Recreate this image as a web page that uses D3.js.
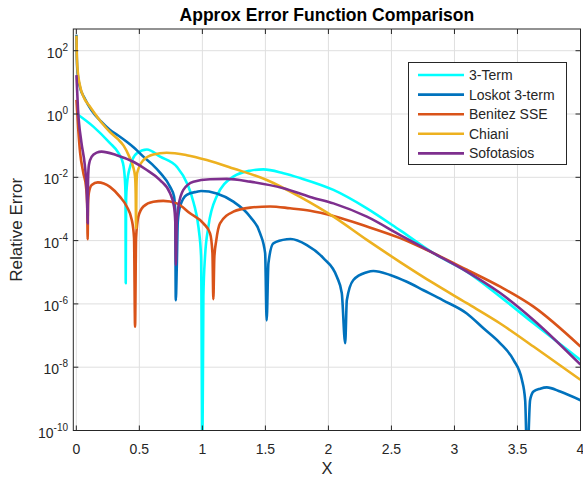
<!DOCTYPE html>
<html>
<head>
<meta charset="utf-8">
<script src="https://cdn.jsdelivr.net/npm/d3@7"></script>
<style>
  body { margin: 0; background: #fff; }
  svg text { font-family: "Liberation Sans", Arial, Helvetica, sans-serif; fill: #262626; }
</style>
</head>
<body>
<div id="chart"></div>
<script>
// chart values
const seriesNames = ['3-Term', 'Loskot 3-term', 'Benitez SSE', 'Chiani', 'Sofotasios'];
const seriesColors = ['#00FFFF', '#0072BD', '#D95319', '#EDB120', '#7E2F8E'];
const xTicks = [0, 0.5, 1, 1.5, 2, 2.5, 3, 3.5, 4];
const yTickExps = [2, 0, -2, -4, -6, -8, -10];

const term3 = [
  [0.005, 1.0], [0.135, 0.40], [0.267, 0.12], [0.33, 0.062], [0.37, 0.028], [0.385, 0.009],
  [0.39, 0.003], [0.392, 4.5e-6], [0.395, 0.002], [0.402, 0.006], [0.427, 0.022], [0.479, 0.057],
  [0.56, 0.076], [0.665, 0.045], [0.8, 0.021], [0.88, 0.0063], [0.93, 0.0016], [0.97, 2.5e-4],
  [0.99, 3e-5], [1.0, 1e-11], [1.008, 1.7e-6], [1.021, 3.1e-5], [1.048, 2.8e-4], [1.114, 2.5e-3],
  [1.246, 0.0105], [1.379, 0.0162], [1.484, 0.0178], [1.643, 0.0135], [1.775, 0.0095],
  [2.04, 0.004], [2.305, 1.05e-3], [2.569, 2.1e-4], [2.833, 4e-5], [3.098, 1.05e-5],
  [3.363, 1.7e-6], [3.627, 2.45e-7], [4.0, 1.7e-8]
];

const loskot = [
  [0.001, 320], [0.004, 60], [0.01, 20], [0.027, 7.5], [0.067, 3.1], [0.119, 1.34], [0.198, 0.57],
  [0.268, 0.31], [0.332, 0.21], [0.4, 0.133], [0.463, 0.083], [0.532, 0.045], [0.6, 0.026],
  [0.664, 0.014], [0.744, 0.005], [0.775, 0.0025], [0.785, 8e-4], [0.789, 1.3e-6], [0.797, 1.5e-5],
  [0.805, 4e-4], [0.823, 1.2e-3], [0.876, 2.8e-3], [0.956, 3.5e-3], [0.99, 3.7e-3], [1.114, 3.1e-3],
  [1.246, 1.7e-3], [1.379, 5.7e-4], [1.458, 1.7e-4], [1.498, 4e-5], [1.51, 3e-7], [1.524, 1.9e-5],
  [1.563, 8.2e-5], [1.67, 1.1e-4], [1.7, 1.12e-4], [1.829, 7.2e-5], [1.96, 2.8e-5], [2.067, 7.2e-6],
  [2.106, 2.2e-6], [2.133, 5.7e-8], [2.146, 1.3e-6], [2.198, 5.7e-6], [2.305, 1.0e-5],
  [2.357, 1.1e-5], [2.49, 8.2e-6], [2.622, 5e-6], [2.754, 2.7e-6], [2.91, 1.3e-6], [3.098, 5e-7],
  [3.23, 1.7e-7], [3.363, 5.7e-8], [3.468, 1.7e-8], [3.535, 4e-9], [3.561, 9e-10], [3.577, 1e-11],
  [3.6, 9e-10], [3.627, 1.7e-9], [3.68, 2.1e-9], [3.733, 2.3e-9], [3.839, 1.7e-9], [4.0, 9e-10]
];

const benitez = [
  [0.001, 2.8], [0.016, 0.3], [0.03, 0.06], [0.056, 0.0135], [0.077, 0.005], [0.086, 0.0015],
  [0.09, 1.1e-4], [0.093, 1.5e-3], [0.1, 3.3e-3], [0.122, 5.7e-3], [0.17, 6.9e-3], [0.267, 5.0e-3],
  [0.347, 2.4e-3], [0.4, 1.2e-3], [0.44, 4.5e-4], [0.458, 1.2e-4], [0.466, 1.9e-7], [0.474, 1.2e-4],
  [0.492, 5.7e-4], [0.532, 1.2e-3], [0.611, 1.7e-3], [0.69, 1.8e-3], [0.797, 1.5e-3], [0.902, 7.3e-4],
  [1.008, 3.5e-4], [1.061, 1.7e-4], [1.08, 4e-5], [1.087, 1.4e-6], [1.095, 3e-5], [1.11, 1e-4],
  [1.14, 3.5e-4], [1.246, 8.2e-4], [1.379, 1.1e-3], [1.537, 1.2e-3], [1.696, 1.05e-3],
  [1.855, 8.8e-4], [2.04, 6e-4], [2.305, 2.8e-4], [2.569, 1.2e-4], [2.833, 4e-5], [3.098, 1.2e-5],
  [3.363, 3.5e-6], [3.627, 8.2e-7], [4.0, 4.5e-8]
];

const chiani = [
  [0.001, 300], [0.004, 70], [0.01, 25], [0.027, 8.5], [0.067, 2.9], [0.1, 1.9], [0.198, 0.55],
  [0.267, 0.27], [0.33, 0.16], [0.375, 0.1], [0.42, 0.045], [0.45, 0.022], [0.466, 0.0105],
  [0.471, 0.003], [0.474, 2.5e-4], [0.477, 0.005], [0.482, 0.0134], [0.532, 0.035], [0.611, 0.053],
  [0.717, 0.06], [0.876, 0.05], [1.035, 0.035], [1.246, 0.019], [1.511, 0.0082], [1.775, 2.4e-3],
  [2.04, 5.7e-4], [2.305, 1.05e-4], [2.569, 2.1e-5], [2.833, 4.5e-6], [3.098, 1.05e-6],
  [3.363, 2.4e-7], [3.627, 4.5e-8], [4.0, 4e-9]
];

const sofotasios = [
  [0.001, 17], [0.013, 1.5], [0.04, 0.13], [0.067, 0.025], [0.08, 0.006], [0.086, 0.0015],
  [0.09, 3.5e-4], [0.093, 0.008], [0.1, 0.025], [0.122, 0.045], [0.162, 0.06], [0.2, 0.065],
  [0.32, 0.05], [0.452, 0.031], [0.559, 0.017], [0.664, 0.0082], [0.744, 0.0031], [0.775, 0.0012],
  [0.785, 4e-4], [0.79, 1.7e-5], [0.797, 4e-4], [0.81, 1.2e-3], [0.849, 4e-3], [0.929, 7.3e-3],
  [1.061, 8.7e-3], [1.194, 8.9e-3], [1.379, 7.3e-3], [1.643, 4.5e-3], [1.855, 2.4e-3],
  [2.04, 1.5e-3], [2.305, 5.7e-4], [2.569, 1.5e-4], [2.833, 4e-5], [3.098, 1.05e-5],
  [3.363, 2.2e-6], [3.627, 3.1e-7], [4.0, 1.2e-8]
];

const seriesData = [term3, loskot, benitez, chiani, sofotasios];

document.addEventListener('DOMContentLoaded', () => {
    const width = 583;
    const height = 482;
    const plot = { left: 73.3, right: 580.5, top: 29, bottom: 430.5 };
    const axisColor = '#262626';

    const svg = d3.select('#chart')
        .append('svg')
        .attr('width', width)
        .attr('height', height);

    const x = d3.scaleLinear()
        .domain([-0.024, 4])
        .range([plot.left, plot.right]);

    const y = d3.scaleLog()
        .domain([1e-10, Math.pow(10, 2.686)])
        .range([plot.bottom, plot.top]);

    // grid
    const grid = svg.append('g').attr('stroke', '#dfdfdf').attr('stroke-width', 1);
    xTicks.forEach(t => {
        grid.append('line')
            .attr('x1', x(t)).attr('x2', x(t))
            .attr('y1', plot.top).attr('y2', plot.bottom);
    });
    yTickExps.forEach(e => {
        grid.append('line')
            .attr('x1', plot.left).attr('x2', plot.right)
            .attr('y1', y(Math.pow(10, e))).attr('y2', y(Math.pow(10, e)));
    });

    // curves
    svg.append('clipPath').attr('id', 'plotClip')
        .append('rect')
        .attr('x', plot.left).attr('y', plot.top)
        .attr('width', plot.right - plot.left)
        .attr('height', plot.bottom - plot.top);

    const line = d3.line()
        .x(d => x(d[0]))
        .y(d => y(d[1]))
        .curve(d3.curveMonotoneX);

    svg.append('g')
        .attr('clip-path', 'url(#plotClip)')
        .selectAll('path')
        .data(seriesData)
        .enter()
        .append('path')
        .attr('d', line)
        .attr('fill', 'none')
        .attr('stroke', (d, i) => seriesColors[i])
        .attr('stroke-width', 2.6)
        .attr('stroke-linejoin', 'round');

    // axes box and ticks (inward, all four sides)
    const axes = svg.append('g').attr('stroke', axisColor).attr('stroke-width', 1);
    axes.append('rect')
        .attr('x', plot.left).attr('y', plot.top)
        .attr('width', plot.right - plot.left)
        .attr('height', plot.bottom - plot.top)
        .attr('fill', 'none');
    const tickLen = 5;
    xTicks.forEach(t => {
        axes.append('line').attr('x1', x(t)).attr('x2', x(t))
            .attr('y1', plot.bottom).attr('y2', plot.bottom - tickLen);
        axes.append('line').attr('x1', x(t)).attr('x2', x(t))
            .attr('y1', plot.top).attr('y2', plot.top + tickLen);
    });
    yTickExps.forEach(e => {
        const yy = y(Math.pow(10, e));
        axes.append('line').attr('x1', plot.left).attr('x2', plot.left + tickLen)
            .attr('y1', yy).attr('y2', yy);
        axes.append('line').attr('x1', plot.right).attr('x2', plot.right - tickLen)
            .attr('y1', yy).attr('y2', yy);
    });

    // tick labels
    svg.append('g').selectAll('text')
        .data(xTicks)
        .enter()
        .append('text')
        .attr('x', d => x(d))
        .attr('y', 454)
        .attr('text-anchor', 'middle')
        .style('font-size', '14px')
        .text(d => d3.format('')(d));

    const yLabels = svg.append('g').selectAll('text')
        .data(yTickExps)
        .enter()
        .append('text')
        .attr('x', 68)
        .attr('y', d => y(Math.pow(10, d)) + 7)
        .attr('text-anchor', 'end')
        .style('font-size', '14px');
    yLabels.append('tspan').text('10');
    yLabels.append('tspan')
        .attr('dy', -7)
        .style('font-size', '10px')
        .text(d => d);

    // title and axis labels
    svg.append('text')
        .attr('x', (plot.left + plot.right) / 2)
        .attr('y', 21)
        .attr('text-anchor', 'middle')
        .style('font-size', '17.5px')
        .style('font-weight', 'bold')
        .style('fill', '#000')
        .text('Approx Error Function Comparison');

    svg.append('text')
        .attr('x', (plot.left + plot.right) / 2)
        .attr('y', 474)
        .attr('text-anchor', 'middle')
        .style('font-size', '16.5px')
        .text('X');

    svg.append('text')
        .attr('transform', `translate(21.5, ${(plot.top + plot.bottom) / 2}) rotate(-90)`)
        .attr('text-anchor', 'middle')
        .style('font-size', '17px')
        .text('Relative Error');

    // legend
    const legend = svg.append('g');
    legend.append('rect')
        .attr('x', 408.5).attr('y', 62.5)
        .attr('width', 158).attr('height', 102)
        .attr('fill', '#fff')
        .attr('stroke', axisColor)
        .attr('stroke-width', 1);
    seriesNames.forEach((name, i) => {
        const ly = 75 + i * 19.6;
        legend.append('line')
            .attr('x1', 418).attr('x2', 464)
            .attr('y1', ly).attr('y2', ly)
            .attr('stroke', seriesColors[i])
            .attr('stroke-width', 2.6);
        legend.append('text')
            .attr('x', 469)
            .attr('y', ly + 5)
            .style('font-size', '14px')
            .text(name);
    });
});
</script>
</body>
</html>
